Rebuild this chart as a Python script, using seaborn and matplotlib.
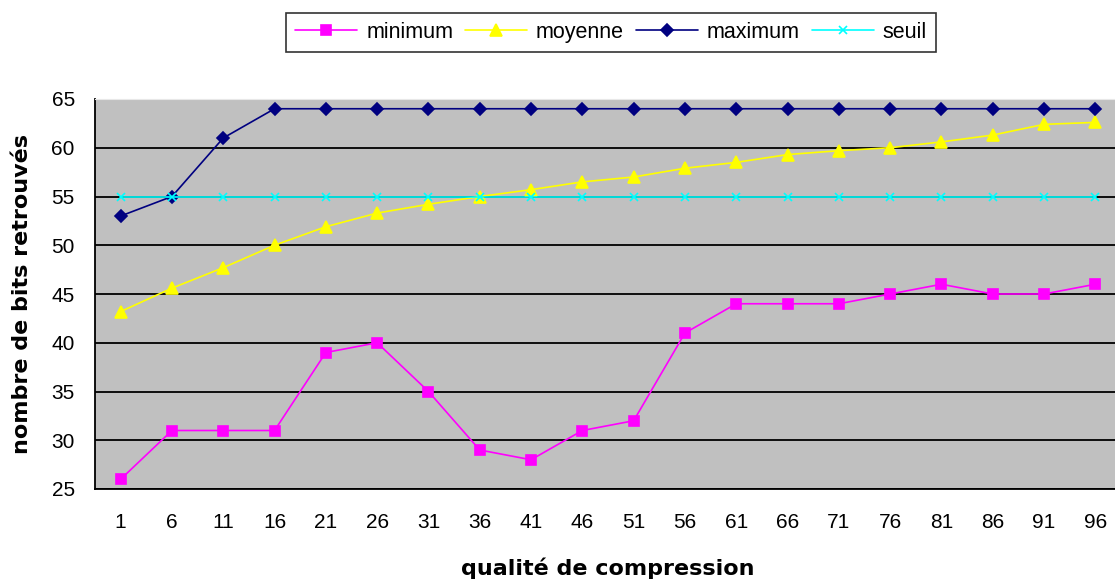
import numpy as np
import pandas as pd
import matplotlib
matplotlib.use("Agg")
import matplotlib.pyplot as plt
import seaborn as sns

# data
qualite = [1, 6, 11, 16, 21, 26, 31, 36, 41, 46, 51, 56, 61, 66, 71, 76, 81, 86, 91, 96]
minimum = [26, 31, 31, 31, 39, 40, 35, 29, 28, 31, 32, 41, 44, 44, 44, 45, 46, 45, 45, 46]
moyenne = [43.2, 45.6, 47.7, 50.0, 51.9, 53.3, 54.2, 55.0, 55.7, 56.5,
           57.0, 57.9, 58.5, 59.3, 59.7, 60.0, 60.6, 61.3, 62.4, 62.6]
maximum = [53, 55, 61] + [64] * 17
seuil = [55] * 20

series = {"minimum": minimum, "moyenne": moyenne, "maximum": maximum, "seuil": seuil}
colors = {"minimum": "#FF00FF", "moyenne": "#FFFF00", "maximum": "#000080", "seuil": "#00FFFF"}
markers = {"minimum": "s", "moyenne": "^", "maximum": "D", "seuil": "x"}
sizes = {"minimum": 7, "moyenne": 8.5, "maximum": 6, "seuil": 5.5}

rows = []
for name, vals in series.items():
    for i, v in enumerate(vals):
        rows.append({"pos": i, "val": v, "serie": name})
df = pd.DataFrame(rows)

sns.set_style("white")
plt.rcParams["font.family"] = ["Liberation Sans", "DejaVu Sans"]
plt.rcParams["text.color"] = "black"
plt.rcParams["axes.labelcolor"] = "black"
plt.rcParams["xtick.color"] = "black"
plt.rcParams["ytick.color"] = "black"

fig = plt.figure(figsize=(11.15, 5.82), dpi=100)
ax = fig.add_axes([95 / 1115, 1 - 489 / 582, 1026 / 1115, 390 / 582])
ax.set_facecolor("#C0C0C0")

for name in series:
    sub = df[df["serie"] == name]
    sns.lineplot(data=sub, x="pos", y="val", ax=ax, color=colors[name],
                 marker=markers[name], markersize=sizes[name],
                 markeredgecolor=colors[name], markeredgewidth=1.2,
                 linewidth=1.2, label=name, zorder=3)

ax.set_xlim(-0.5, len(qualite) - 0.5)
ax.set_ylim(25, 65)
ax.set_yticks(range(25, 66, 5))
ax.yaxis.grid(True, color="black", linewidth=1.3)
ax.set_axisbelow(True)

# Excel-like category ticks: marks between categories, labels centred
ax.set_xticks(np.arange(-0.5, len(qualite), 1.0))
ax.set_xticklabels([])
ax.set_xticks(range(len(qualite)), minor=True)
ax.set_xticklabels([str(q) for q in qualite], minor=True, fontsize=15)
ax.tick_params(axis="x", which="major", direction="out", length=6, width=1.3, color="black")
ax.tick_params(axis="x", which="minor", length=0, pad=17)
ax.tick_params(axis="y", direction="out", length=5.5, width=1.3, color="black", labelsize=15, pad=9)

for side in ["left", "bottom"]:
    ax.spines[side].set_color("black")
    ax.spines[side].set_linewidth(1.3)
ax.spines["top"].set_color("#e8e8e8")
ax.spines["right"].set_visible(False)

ax.set_xlabel("qualité de compression", fontsize=16, fontweight="bold",
              family="DejaVu Sans", labelpad=18.5)
ax.set_ylabel("nombre de bits retrouvés", fontsize=16, fontweight="bold",
              family="DejaVu Sans", labelpad=14)

leg = ax.legend(loc="center", bbox_to_anchor=(611 / 1115, 1 - 32.5 / 582),
                bbox_transform=fig.transFigure, ncol=4, frameon=True, fancybox=False,
                edgecolor="black", fontsize=15.5, handlelength=2.9, columnspacing=0.55,
                handletextpad=0.4, borderpad=0.4)
leg.get_frame().set_linewidth(1.2)

fig.savefig("out.png", dpi=100)
